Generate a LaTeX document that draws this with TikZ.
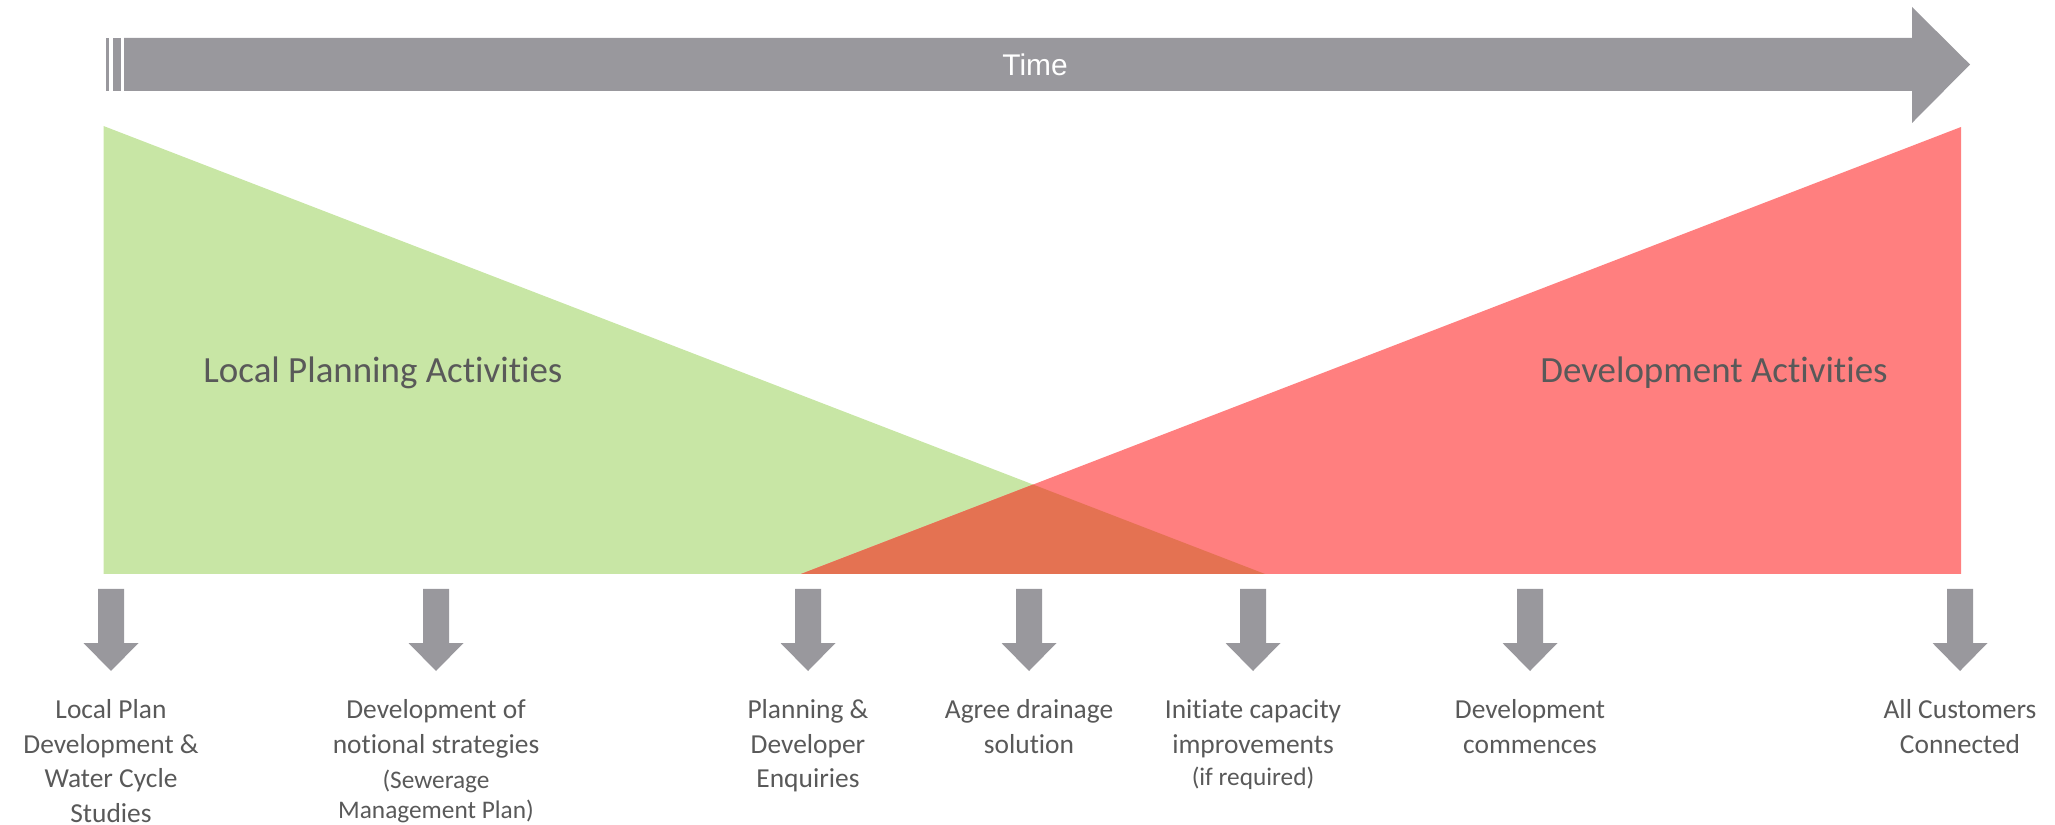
\documentclass[tikz,border=0pt]{standalone}
\usepackage{fontspec}
\setmainfont{Carlito}[Ligatures=NoCommon]
\newfontfamily\timefont{Liberation Sans}

\definecolor{arrowgray}{HTML}{99989D}
\definecolor{labelgray}{HTML}{595959}
\definecolor{plangreen}{HTML}{C8E6A5}
\definecolor{devred}{HTML}{FF7F7F}
\definecolor{overlaporange}{HTML}{E47252}

\newcommand{\labelfont}{\fontsize{7.8}{9.8}\selectfont}
\newcommand{\notefont}{\fontsize{7.2}{8.6}\selectfont}

\tikzset{
  stage/.style={text=labelgray, font=\labelfont, align=center, anchor=north, inner sep=0pt},
  phase/.style={text=labelgray, font=\fontsize{10.5}{12}\selectfont, anchor=base, inner sep=0pt},
}

\begin{document}
\begin{tikzpicture}[x=0.01cm,y=-0.01cm]
  \useasboundingbox (0,0) rectangle (2055,825);

  % time bar with the two stripes at its tail
  \fill[arrowgray] (106,38) rectangle (109,91);
  \fill[arrowgray] (113,38) rectangle (121,91);
  \fill[arrowgray] (124,38) -- (1912,38) -- (1912,7) -- (1970,64.5)
    -- (1912,123) -- (1912,91) -- (124,91) -- cycle;
  \node[text=white, font=\timefont\fontsize{8.5}{10}\selectfont] (time) at (1035,64.5) {Time};

  % the two activity wedges and where they overlap
  \fill[plangreen] (103.5,126) -- (1265,574) -- (103.5,574) -- cycle;
  \fill[devred] (1961,127) -- (1961,574) -- (801,574) -- cycle;
  \begin{scope}
    \clip (103.5,126) -- (1265,574) -- (103.5,574) -- cycle;
    \fill[overlaporange] (1961,127) -- (1961,574) -- (801,574) -- cycle;
  \end{scope}

  \node[phase] (plan) at (383,383) {Local Planning Activities};
  \node[phase] (dev) at (1714,383) {Development Activities};

  % milestone arrows
  \foreach \x in {111,436,808,1029,1253,1530,1960}
    \fill[arrowgray] (\x-13,589) -- (\x+13,589) -- (\x+13,643) -- (\x+27.5,643)
      -- (\x,671) -- (\x-27.5,643) -- (\x-13,643) -- cycle;

  \node[stage] (s1) at (111,694) {\strut Local Plan\\Development \&\\Water Cycle\\Studies};
  \node[stage] (s2) at (436,694) {\strut Development of\\notional strategies\\[0.2pt]{\notefont (Sewerage}\\[-1.4pt]{\notefont Management Plan)}};
  \node[stage] (s3) at (808,694) {\strut Planning \&\\Developer\\Enquiries};
  \node[stage] (s4) at (1029,694) {\strut Agree drainage\\solution};
  \node[stage] (s5) at (1253,694) {\strut Initiate capacity\\improvements\\[-0.6pt]{\notefont (if required)}};
  \node[stage] (s6) at (1530,694) {\strut Development\\commences};
  \node[stage] (s7) at (1960,694) {\strut All Customers\\Connected};
\end{tikzpicture}
\end{document}
